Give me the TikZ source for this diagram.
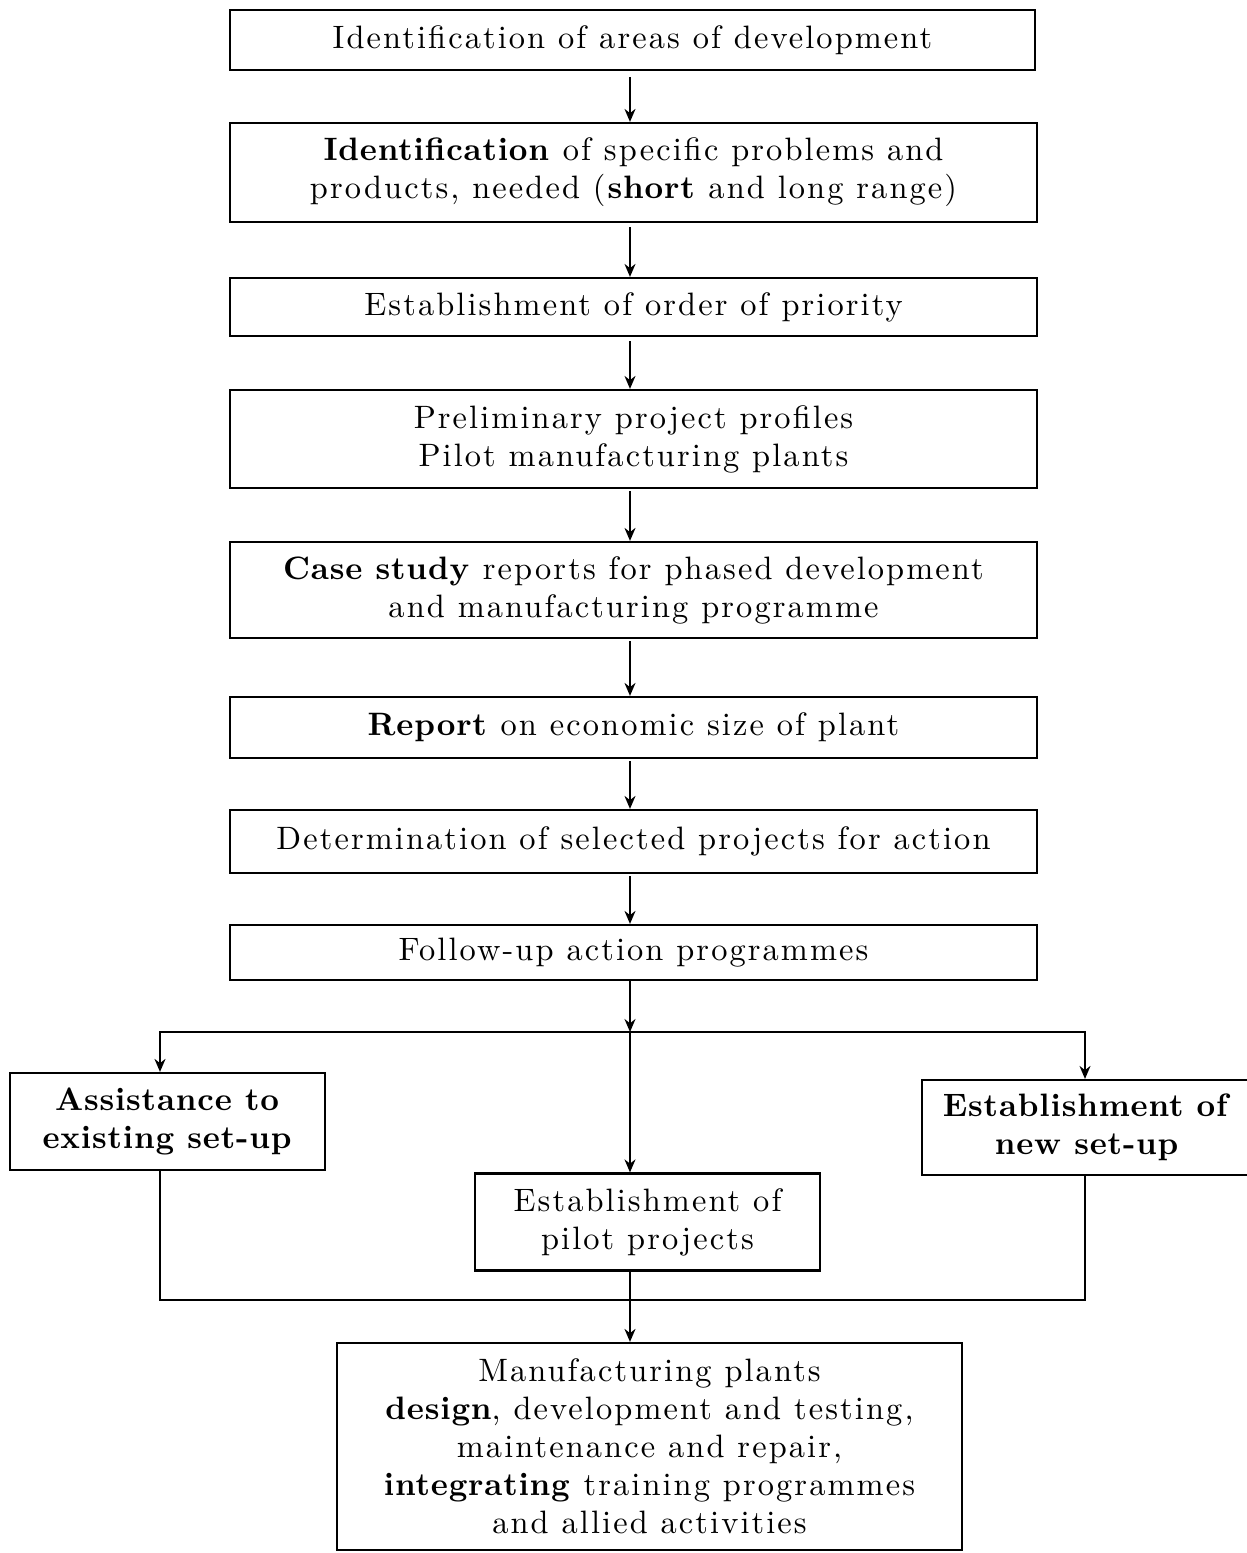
\documentclass[tikz,border=0pt]{standalone}
\usepackage{fontspec}
\setmainfont{lmroman10-regular}[Extension=.otf, BoldFont=lmroman10-bold, LetterSpace=6.5, BoldFeatures={LetterSpace=2.5}]
\usetikzlibrary{arrows.meta}
\tikzset{
  box/.style={draw, line width=1.1pt, rectangle, align=center, inner sep=0pt,
    font=\fontsize{16.2}{19}\selectfont},
  conn/.style={line width=0.9pt},
  arr/.style={conn, -{Stealth[length=6.5pt,width=5.5pt]}},
}
\begin{document}
\begin{tikzpicture}[x=0.5pt,y=-0.5pt]
\useasboundingbox (0,0) rectangle (1247,1553);
\clip (0,0) rectangle (1247,1553);
% main column
\node[box, minimum width=402.5pt, minimum height=30pt] (b1) at (632.5,40)
  {Identification of areas of development};
\node[box, minimum width=403.5pt, minimum height=49.5pt] (b2) at (633.5,172.5)
  {\textbf{Identification} of specific problems and\\products, needed (\textbf{short} and long range)};
\node[box, minimum width=403.5pt, minimum height=29pt] (b3) at (633.5,307)
  {Establishment of order of priority};
\node[box, minimum width=403.5pt, minimum height=49pt] (b4) at (633.5,439)
  {Preliminary project profiles\\Pilot manufacturing plants};
\node[box, minimum width=403.5pt, minimum height=48pt] (b5) at (633.5,590)
  {\textbf{Case study} reports for phased development\\and manufacturing programme};
\node[box, minimum width=403.5pt, minimum height=30.5pt] (b6) at (633.5,727.5)
  {\textbf{Report} on economic size of plant};
\node[box, minimum width=403.5pt, minimum height=31.5pt] (b7) at (633.5,841.5)
  {Determination of selected projects for action};
\node[box, minimum width=403.5pt, minimum height=27.5pt] (b8) at (633.5,952.5)
  {Follow-up action programmes};
% branches
\node[box, minimum width=157.5pt, minimum height=48.5pt] (b9) at (167.5,1121.5)
  {\textbf{Assistance to}\\\textbf{existing set-up}};
\node[box, minimum width=165pt, minimum height=47.5pt] (b10) at (1087,1127.5)
  {\textbf{Establishment of}\\\textbf{new set-up}};
\node[box, minimum width=172.5pt, minimum height=48.5pt] (b11) at (647.5,1222)
  {Establishment of\\pilot projects};
\node[box, minimum width=312.5pt, minimum height=103.5pt] (b12) at (649.5,1446.5)
  {Manufacturing plants\\\textbf{design}, development and testing,\\maintenance and repair,\\\textbf{integrating} training programmes\\and allied activities};
% guide coordinates
\coordinate (ax) at (630,0);
\coordinate (lx) at (160,0);
\coordinate (rx) at (1085,0);
\coordinate (j1) at (630,1032);
\coordinate (j2) at (630,1300);
% arrows in the column
\draw[arr] ([yshift=-3pt]b1.south -| ax) -- (b2.north -| ax);
\draw[arr] ([yshift=-2pt]b2.south -| ax) -- (b3.north -| ax);
\draw[arr] ([yshift=-2pt]b3.south -| ax) -- (b4.north -| ax);
\draw[arr] ([yshift=-1pt]b4.south -| ax) -- (b5.north -| ax);
\draw[arr] ([yshift=-1pt]b5.south -| ax) -- (b6.north -| ax);
\draw[arr] ([yshift=-1pt]b6.south -| ax) -- (b7.north -| ax);
\draw[arr] ([yshift=-1pt]b7.south -| ax) -- (b8.north -| ax);
\draw[arr] (b8.south -| ax) -- (j1);
% branching
\draw[arr] (j1) -| (b9.north -| lx);
\draw[arr] (j1) -| (b10.north -| rx);
\draw[arr] (j1) -- (b11.north -| ax);
% merging
\draw[conn] (b9.south -| lx) |- (j2);
\draw[conn] (b10.south -| rx) |- (j2);
\draw[arr] (b11.south -| ax) -- (b12.north -| ax);
\end{tikzpicture}
\end{document}
